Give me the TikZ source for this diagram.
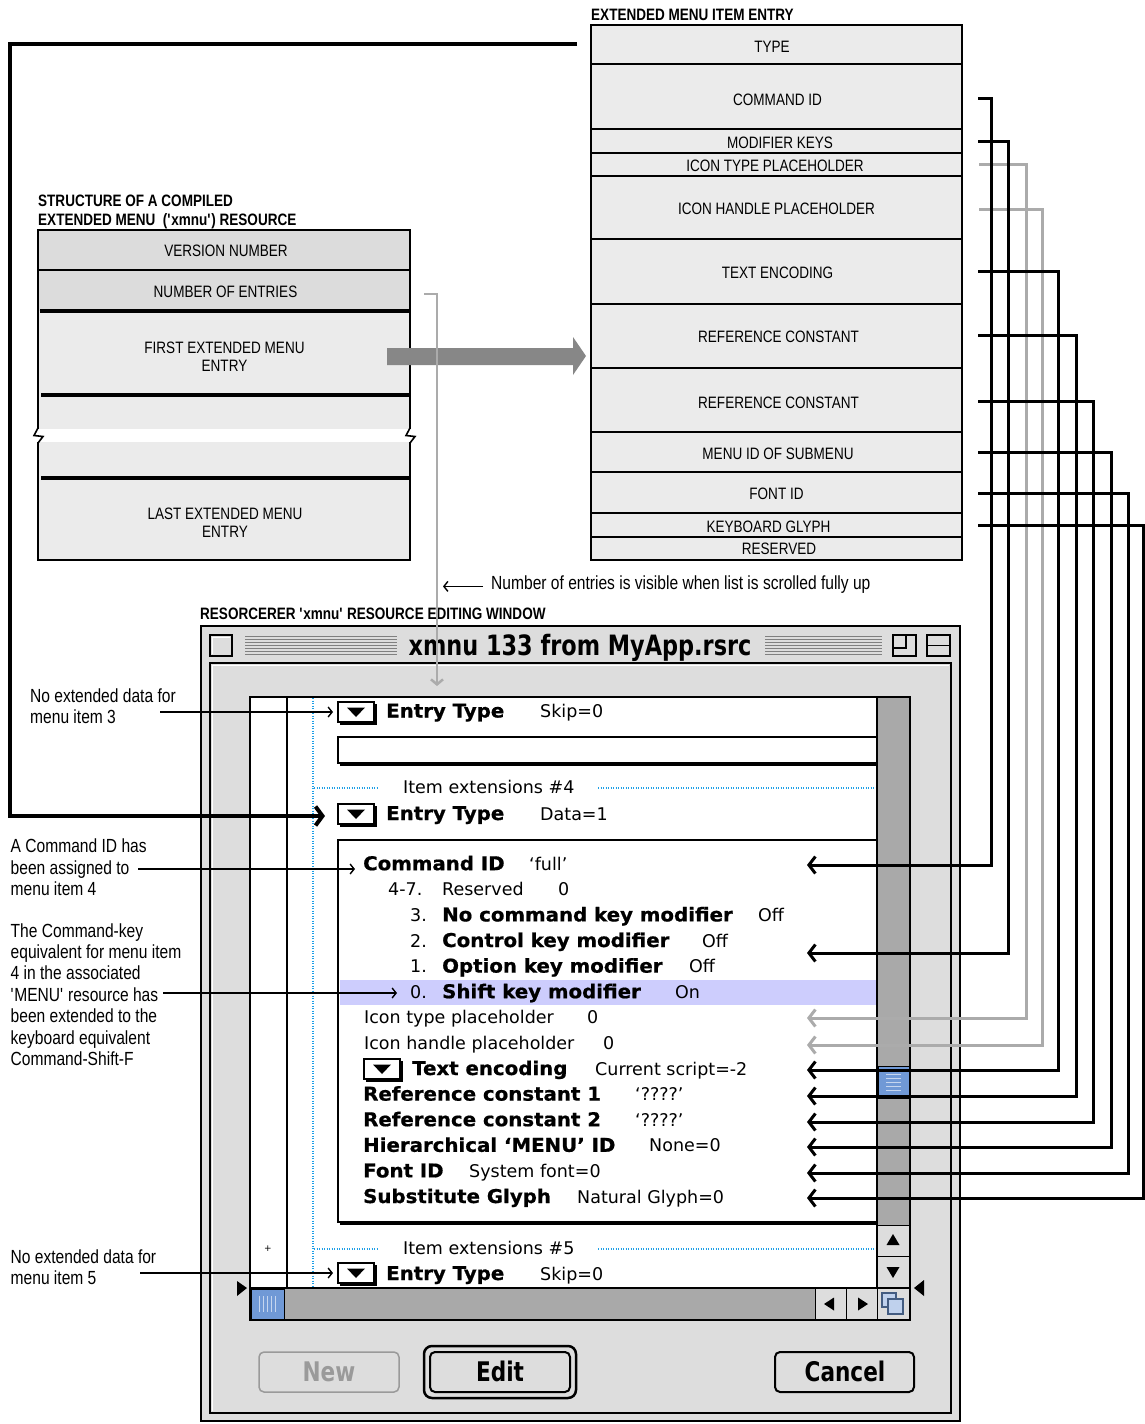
\documentclass[tikz,border=0pt]{standalone}
\usepackage{fontspec}
\usetikzlibrary{arrows.meta}
\newfontfamily\narrowfont[FakeStretch=0.82]{Liberation Sans}
\newfontfamily\macfont{DejaVu Sans}
\newfontfamily\macbold[FakeStretch=1.04,BoldFeatures={FakeBold=0.8}]{DejaVu Sans}
\newfontfamily\chromefont[FakeStretch=0.8]{DejaVu Sans}
\definecolor{tblfill}{HTML}{EBEBEB}
\definecolor{hdrfill}{HTML}{DCDCDC}
\definecolor{winbg}{HTML}{DDDDDD}
\definecolor{track}{HTML}{A9A9A9}
\definecolor{thumbblue}{HTML}{7099D6}
\definecolor{hilite}{HTML}{CDCDFD}
\definecolor{guide}{HTML}{1E9FE6}
\definecolor{paleline}{HTML}{ABABAB}
\definecolor{bigarrow}{HTML}{878787}
\definecolor{stripe}{HTML}{808080}
\definecolor{greytext}{HTML}{9A9A9A}

\begin{document}
\begin{tikzpicture}[x=1pt,y=-1pt,
  note/.style={font=\narrowfont\fontsize{19}{21.4}\selectfont,align=left,anchor=north west,inner sep=0pt},
  heading/.style={font=\narrowfont\bfseries\fontsize{16.5}{18.6}\selectfont,align=left,anchor=north west,inner sep=0pt},
  cell/.style={font=\narrowfont\fontsize{16.5}{18.5}\selectfont,align=center,inner sep=0pt},
  mb/.style={font=\macbold\bfseries\fontsize{19}{22}\selectfont,anchor=base west,inner sep=0pt},
  mr/.style={font=\macfont\fontsize{17.5}{21}\selectfont,anchor=base west,inner sep=0pt},
  btn/.style={font=\chromefont\bfseries\fontsize{27}{29}\selectfont,anchor=base,inner sep=0pt},
  link/.style={line width=3pt,-{Straight Barb[length=6.5pt,width=17pt]}},
  palelink/.style={link,draw=paleline},
  thinlink/.style={line width=1.4pt,-{Straight Barb[length=4pt,width=10pt]}},
  rule/.style={line width=1.8pt},
  heavyrule/.style={line width=3.2pt},
  dotguide/.style={guide,line width=1.4pt,dash pattern=on 1.2pt off 1.3pt},
  popup/.pic={
    \draw[line width=1.5pt,fill=white] (0,0) rectangle (36,20);
    \draw[line width=2.2pt] (2,21.6) -- (37.6,21.6) -- (37.6,2);
    \fill (9,5.5) -- (27,5.5) -- (18,15) -- cycle;
  },
]
\useasboundingbox (0,0) rectangle (1145,1424);

% ---------- layout of one extended menu item entry ----------
\node[heading] (h-entry) at (591,9) {EXTENDED MENU ITEM ENTRY};
\fill[tblfill] (591,25) rectangle (962,560);
\foreach \y in {64,129,153,176,239,304,368,432,472,513,537}
  \draw[rule] (591,\y) -- (962,\y);
\draw[line width=2pt] (591,25) rectangle (962,560);
\node[cell] (f-type) at (772,46.5) {TYPE};
\node[cell] (f-cmd) at (777.5,100) {COMMAND ID};
\node[cell] (f-mod) at (780,142.5) {MODIFIER KEYS};
\node[cell] (f-itype) at (775,165.5) {ICON TYPE PLACEHOLDER};
\node[cell] (f-ihandle) at (776.5,209) {ICON HANDLE PLACEHOLDER};
\node[cell] (f-enc) at (777.5,272.5) {TEXT ENCODING};
\node[cell] (f-ref1) at (778.5,337) {REFERENCE CONSTANT};
\node[cell] (f-ref2) at (778.5,403) {REFERENCE CONSTANT};
\node[cell] (f-menu) at (778,454) {MENU ID OF SUBMENU};
\node[cell] (f-font) at (776.5,494) {FONT ID};
\node[cell] (f-kbd) at (768.5,526.5) {KEYBOARD GLYPH};
\node[cell] (f-res) at (779,549) {RESERVED};

% ---------- layout of the whole resource ----------
\node[heading] (h-struct) at (38,194.8) {STRUCTURE OF A COMPILED\\EXTENDED MENU\ \ (\textquotesingle xmnu\textquotesingle) RESOURCE};
\fill[hdrfill] (38,230) rectangle (410,311);
\fill[tblfill] (38,311) rectangle (410,429);
\fill[tblfill] (38,442) rectangle (410,560);
\draw[rule] (38,270) -- (410,270);
\draw[heavyrule] (40,311) -- (410,311);
\draw[heavyrule] (41,395) -- (410,395);
\draw[heavyrule] (41,478) -- (410,478);
\draw[line width=2pt] (38,429) -- (38,230) -- (410,230) -- (410,429);
\draw[line width=2pt] (38,442) -- (38,560) -- (410,560) -- (410,442);
\draw[line width=1.6pt] (38,428) -- (34,435.5) -- (43,436.5) -- (38,443);
\draw[line width=1.6pt] (410,428) -- (406,435.5) -- (415,436.5) -- (410,443);
\node[cell] (s-ver) at (226,251) {VERSION NUMBER};
\node[cell] (s-num) at (225.5,291.5) {NUMBER OF ENTRIES};
\node[cell] (s-first) at (224.5,356.7) {FIRST EXTENDED MENU\\ENTRY};
\node[cell] (s-last) at (225,522.5) {LAST EXTENDED MENU\\ENTRY};

% broad arrow: first entry expands into the entry layout
\fill[bigarrow] (387,348) -- (573,348) -- (573,337) -- (586,356) -- (573,375)
  -- (573,365) -- (387,365) -- cycle;

% note about the entry count
\node[note,anchor=base west] (n-entries) at (491,589.8) {Number of entries is visible when list is scrolled fully up};
\draw[thinlink] ([xshift=-8pt,yshift=-1.5pt]n-entries.west) -- ++(-40,0);

% ---------- Resorcerer editing window ----------
\node[heading] (h-win) at (200,607.6) {RESORCERER \textquotesingle xmnu\textquotesingle{} RESOURCE EDITING WINDOW};
\filldraw[fill=winbg,line width=2.5pt] (201,626) rectangle (960,1421);
\foreach \k in {0,...,6} {
  \draw[stripe,line width=1pt] (245,636.5+3*\k) -- (397,636.5+3*\k);
  \draw[stripe,line width=1pt] (765,636.5+3*\k) -- (882,636.5+3*\k);
}
\draw[line width=1.3pt,fill=winbg] (210,635) rectangle (232,656);
\draw[white,line width=1pt] (212.5,653.5) -- (212.5,637.5) -- (229.5,637.5);
\draw[line width=1.3pt,fill=winbg] (893,635) rectangle (916,656);
\draw[line width=1.3pt] (893,635) rectangle (906,648);
\draw[line width=1.3pt,fill=winbg] (927,635) rectangle (950,656);
\draw[line width=1.3pt] (927,645.5) -- (950,645.5);
\node[font=\chromefont\bfseries\fontsize{28}{30}\selectfont,anchor=base,inner sep=0pt] (w-title) at (580,655) {xmnu 133 from MyApp.rsrc};
\draw[line width=1.3pt] (210,663) rectangle (951,1413);
\draw[white,line width=1pt] (212,1411) -- (212,665) -- (949,665);

% list pane
\filldraw[fill=white,line width=1.6pt] (250,697) rectangle (910,1320);
\draw[line width=1.3pt] (287,697) -- (287,1288);
\draw[dotguide] (313,698) -- (313,1287);

% fields
\draw[line width=1.5pt] (877,737) -- (338,737) -- (338,763) -- (877,763);
\draw[line width=2.2pt] (340,764.5) -- (877,764.5);
\fill[hilite] (340,980) rectangle (877,1005);
\draw[line width=1.5pt] (877,840) -- (338,840) -- (338,1222) -- (877,1222);
\draw[line width=2.4pt] (340,1224) -- (877,1224);
\draw[dotguide] (314,788) -- (378,788) (598,788) -- (877,788);
\draw[dotguide] (314,1249) -- (378,1249) (598,1249) -- (877,1249);

\pic at (338,702) {popup};
\pic at (338,804) {popup};
\pic at (364,1059) {popup};
\pic at (338,1263) {popup};

% list text
\node[mb] (e1-lbl) at (386,717.5) {Entry Type};
\node[mr] (e1-val) at (540,717.5) {Skip=0};
\node[mr] (x4) at (403,793.5) {Item extensions \#4};
\node[mb] (e2-lbl) at (386,820) {Entry Type};
\node[mr] (e2-val) at (540,820) {Data=1};
\node[mb] (c-lbl) at (363,870.2) {Command ID};
\node[mr] (c-val) at (529,870.2) {‘full’};
\node[mr] (r-num) at (388,895.8) {4-7.};
\node[mr] (r-lbl) at (442,895.8) {Reserved};
\node[mr] (r-val) at (558,895.8) {0};
\node[mr] (k3-num) at (410,921.4) {3.};
\node[mb] (k3-lbl) at (442,921.4) {No command key modifier};
\node[mr] (k3-val) at (758,921.4) {Off};
\node[mr] (k2-num) at (410,947) {2.};
\node[mb] (k2-lbl) at (442,947) {Control key modifier};
\node[mr] (k2-val) at (702,947) {Off};
\node[mr] (k1-num) at (410,972.6) {1.};
\node[mb] (k1-lbl) at (442,972.6) {Option key modifier};
\node[mr] (k1-val) at (689,972.6) {Off};
\node[mr] (k0-num) at (410,998.2) {0.};
\node[mb] (k0-lbl) at (442,998.2) {Shift key modifier};
\node[mr] (k0-val) at (675,998.2) {On};
\node[mr] (it-lbl) at (364,1023.8) {Icon type placeholder};
\node[mr] (it-val) at (587,1023.8) {0};
\node[mr] (ih-lbl) at (364,1049.4) {Icon handle placeholder};
\node[mr] (ih-val) at (603,1049.4) {0};
\node[mb] (te-lbl) at (412,1075) {Text encoding};
\node[mr] (te-val) at (595,1075) {Current script=-2};
\node[mb] (rc1-lbl) at (363,1100.6) {Reference constant 1};
\node[mr] (rc1-val) at (635,1100.6) {‘????’};
\node[mb] (rc2-lbl) at (363,1126.2) {Reference constant 2};
\node[mr] (rc2-val) at (635,1126.2) {‘????’};
\node[mb] (hm-lbl) at (363,1151.8) {Hierarchical ‘MENU’ ID};
\node[mr] (hm-val) at (649,1151.8) {None=0};
\node[mb] (fi-lbl) at (363,1177.4) {Font ID};
\node[mr] (fi-val) at (469,1177.4) {System font=0};
\node[mb] (sg-lbl) at (363,1203) {Substitute Glyph};
\node[mr] (sg-val) at (577,1203) {Natural Glyph=0};
\node[mr] (x5) at (403,1254.5) {Item extensions \#5};
\node[mb] (e3-lbl) at (386,1280) {Entry Type};
\node[mr] (e3-val) at (540,1280) {Skip=0};
\node[font=\macfont\fontsize{9}{9}\selectfont,inner sep=0pt] (mark) at (268,1249) {+};

% vertical scroll bar
\fill[track] (877,698) rectangle (909,1225);
\draw[line width=1.3pt] (877,697) -- (877,1288);
\filldraw[fill=thumbblue,line width=1pt] (878,1066) rectangle (909,1098);
\foreach \k in {0,...,4}
  \draw[white!60!thumbblue,line width=0.8pt] (886,1074+4*\k) -- (901,1074+4*\k);
\filldraw[fill=winbg,line width=1pt] (877,1225) rectangle (909,1256);
\fill (893,1234) -- (899.5,1245) -- (886.5,1245) -- cycle;
\filldraw[fill=winbg,line width=1pt] (877,1256) rectangle (909,1288);
\fill (893,1278) -- (899.5,1267) -- (886.5,1267) -- cycle;

% horizontal scroll bar
\fill[track] (284,1288) rectangle (815,1320);
\draw[line width=1.3pt] (250,1288) -- (909,1288);
\filldraw[fill=thumbblue,line width=1pt] (251,1289) rectangle (284,1319);
\foreach \k in {0,...,4}
  \draw[white!60!thumbblue,line width=0.8pt] (259.5+4*\k,1296) -- (259.5+4*\k,1312);
\filldraw[fill=winbg,line width=1pt] (815,1288) rectangle (846,1320);
\fill (824,1304) -- (834,1297.5) -- (834,1310.5) -- cycle;
\filldraw[fill=winbg,line width=1pt] (846,1288) rectangle (877,1320);
\fill (868,1304) -- (858,1297.5) -- (858,1310.5) -- cycle;
\filldraw[fill=winbg,line width=1pt] (877,1288) rectangle (909,1320);
\draw[thumbblue!60!black,fill=thumbblue!45,line width=1.1pt] (882,1293) rectangle (896,1307);
\draw[thumbblue!60!black,fill=thumbblue!45,line width=1.1pt] (888,1299) rectangle (903,1314);
\draw[line width=1.6pt] (250,1320) -- (910,1320) -- (910,697);
\fill (237,1281) -- (247,1288) -- (237,1296) -- cycle;
\fill (924,1280) -- (914,1288) -- (924,1296) -- cycle;

% buttons
\draw[greytext,line width=1.5pt,rounded corners=5pt] (259,1352) rectangle (399,1392);
\node[btn,text=greytext] (b-new) at (329,1381) {New};
\draw[line width=2.5pt,rounded corners=8pt] (424,1346) rectangle (576,1398);
\draw[line width=2pt,rounded corners=5pt] (430,1352) rectangle (570,1392);
\node[btn] (b-edit) at (500,1381) {Edit};
\draw[line width=2pt,rounded corners=5pt] (775,1352) rectangle (914,1392);
\node[btn] (b-cancel) at (845,1381) {Cancel};

% ---------- side notes ----------
\node[note] (n-item3) at (30,688.2) {No extended data for\\menu item 3};
\node[note] (n-cmd) at (10.5,838.7) {A Command ID has\\been assigned to\\menu item 4};
\node[note] (n-key) at (10.5,923.2) {The Command-key\\equivalent for menu item\\4 in the associated\\\textquotesingle MENU\textquotesingle{} resource has\\been extended to the\\keyboard equivalent\\Command-Shift-F};
\node[note] (n-item5) at (10.5,1249.2) {No extended data for\\menu item 5};

\coordinate (a3s) at (160,712);   \coordinate (a3e) at (333,712);
\coordinate (acs) at (138,869);   \coordinate (ace) at (355,869);
\coordinate (aks) at (163,993);   \coordinate (ake) at (397,993);
\coordinate (a5s) at (140,1273);  \coordinate (a5e) at (333,1273);
\draw[thinlink] (a3s) -- (a3e);
\draw[thinlink] (acs) -- (ace);
\draw[thinlink] (aks) -- (ake);
\draw[thinlink] (a5s) -- (a5e);

% ---------- field connectors ----------
\coordinate (type-src) at (577,44);
\coordinate (type-bend) at (10,430);
\coordinate (type-dst) at (325,816);
\draw[line width=4pt,-{Straight Barb[length=7pt,width=19pt]}] (type-src) -| (type-bend) |- (type-dst);

\foreach \i/\ys/\xv/\ye in {3/164/1026/1018, 4/209/1042/1045} {
  \coordinate (src\i) at (979,\ys);
  \coordinate (dst\i) at (807,\ye);
  \draw[palelink] (src\i) -- (\xv,\ys) |- (dst\i);
}
\foreach \i/\ys/\xv/\ye in {1/98/991/865, 2/141/1008/953, 5/271/1058/1070,
    6/335/1076/1096, 7/401/1093/1122, 8/452/1111/1147, 9/493/1128/1173, 10/525/1143/1198} {
  \coordinate (src\i) at (978,\ys);
  \coordinate (dst\i) at (807,\ye);
  \draw[link] (src\i) -- (\xv,\ys) |- (dst\i);
}

% pointer from the entry count into the list
\coordinate (p-from) at (424,294);
\coordinate (p-to) at (437,686);
\draw[line width=2.5pt,paleline,-{Straight Barb[length=5pt,width=12pt]}] (p-from) -| (p-to);
\end{tikzpicture}
\end{document}
